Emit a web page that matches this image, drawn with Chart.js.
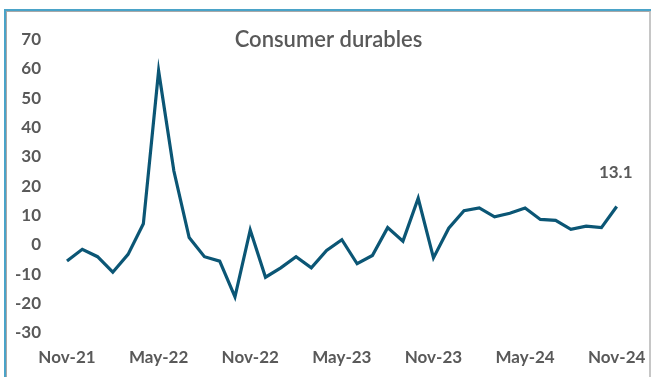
<!DOCTYPE html>
<html>
<head>
<meta charset="utf-8">
<script src="https://cdn.jsdelivr.net/npm/chart.js@4"></script>
<style>
  html, body { margin: 0; padding: 0; background: #fff; }
  body { width: 651px; height: 377px; position: relative; overflow: hidden; }
  #myChart { position: absolute; left: 0; top: 0; }
  .frame {
    position: absolute; left: 4px; top: 9px; width: 645px; height: 380px;
    border-top: 2px solid #4aa3c8; border-left: 2px solid #4aa3c8;
    pointer-events: none;
  }
  .frame__inner {
    position: absolute; left: 0; top: 0; right: 0; bottom: 0;
    border-top: 1px solid #a8a8a8; border-left: 1px solid #a8a8a8;
    border-right: 2px solid #c6c6c6;
  }
</style>
</head>
<body>
<canvas id="myChart" width="651" height="377"></canvas>
<div class="frame"><div class="frame__inner"></div></div>
<script>
const months = [
  'Nov-21', 'Dec-21', 'Jan-22', 'Feb-22', 'Mar-22', 'Apr-22', 'May-22', 'Jun-22', 'Jul-22', 'Aug-22', 'Sep-22', 'Oct-22',
  'Nov-22', 'Dec-22', 'Jan-23', 'Feb-23', 'Mar-23', 'Apr-23', 'May-23', 'Jun-23', 'Jul-23', 'Aug-23', 'Sep-23', 'Oct-23',
  'Nov-23', 'Dec-23', 'Jan-24', 'Feb-24', 'Mar-24', 'Apr-24', 'May-24', 'Jun-24', 'Jul-24', 'Aug-24', 'Sep-24', 'Oct-24',
  'Nov-24'
]

// годовой рост, %
const durables = [
  -5.5, -1.5, -4.0, -9.3, -3.2, 7.2, 59.3, 25.2, 2.5, -4.0, -5.5, -17.7,
  5.1, -11.0, -7.8, -4.0, -7.8, -1.9, 1.8, -6.4, -3.6, 5.9, 1.3, 15.9,
  -4.4, 5.7, 11.7, 12.6, 9.6, 10.8, 12.6, 8.7, 8.4, 5.3, 6.4, 5.9,
  13.1
]

const yTicks = [-30, -20, -10, 0, 10, 20, 30, 40, 50, 60, 70]
const labelEvery = 6
const chartTitle = 'Consumer durables'

const grey = '#595959'
const lineColor = '#0b5675'
const fontFamily = 'Lato, "Open Sans", sans-serif'

// заголовок рисуем сами, поверх области графика
const titlePlugin = {
  id: 'titleOverlay',
  afterDraw(chart) {
    const ctx = chart.ctx
    ctx.save()
    ctx.font = `600 22px ${fontFamily}`
    ctx.fillStyle = grey
    ctx.textAlign = 'center'
    ctx.textBaseline = 'middle'
    ctx.fillText(chartTitle, chart.width / 2 + 3, 40)
    ctx.restore()
  }
}

// подпись последнего значения
const lastValuePlugin = {
  id: 'lastValue',
  afterDatasetsDraw(chart) {
    const meta = chart.getDatasetMeta(0)
    const i = durables.length - 1
    const pt = meta.data[i]
    const ctx = chart.ctx
    ctx.save()
    ctx.font = `bold 17px ${fontFamily}`
    ctx.fillStyle = grey
    ctx.textAlign = 'center'
    ctx.textBaseline = 'middle'
    ctx.fillText(durables[i].toFixed(1), pt.x - 1, pt.y - 34)
    ctx.restore()
  }
}

const ctx = document.getElementById('myChart').getContext('2d')
const myChart = new Chart(ctx, {
  type: 'line',
  data: {
    labels: months,
    datasets: [{
      label: chartTitle,
      data: durables,
      borderColor: lineColor,
      borderWidth: 3.2,
      tension: 0,
      pointRadius: 0,
      fill: false,
    }]
  },
  options: {
    responsive: false,
    animation: false,
    layout: { padding: { top: 39.5, right: 34.3, bottom: 0, left: 0 } },
    plugins: {
      legend: { display: false },
      title: { display: false },
      tooltip: { enabled: false },
    },
    scales: {
      x: {
        offset: false,
        grid: { display: false, drawTicks: false },
        border: { display: false },
        afterFit: (scale) => {
          scale.height = 44
          // подписи по краям не должны сжимать область графика
          scale.paddingLeft = 0
          scale.paddingRight = 0
        },
        ticks: {
          autoSkip: false,
          maxRotation: 0,
          padding: 14,
          color: grey,
          font: { family: fontFamily, size: 17, weight: 'bold' },
          callback: (val, i) => i % labelEvery === 0 ? months[i] : '',
        }
      },
      y: {
        min: yTicks[0],
        max: yTicks[yTicks.length - 1],
        afterBuildTicks: (scale) => { scale.ticks = yTicks.map(v => ({ value: v })) },
        afterFit: (scale) => { scale.width = 67 },
        grid: { display: false, drawTicks: false },
        border: { display: false },
        ticks: {
          padding: 26,
          color: grey,
          font: { family: fontFamily, size: 17, weight: 'bold' },
        }
      }
    }
  },
  plugins: [titlePlugin, lastValuePlugin]
})
</script>
</body>
</html>
